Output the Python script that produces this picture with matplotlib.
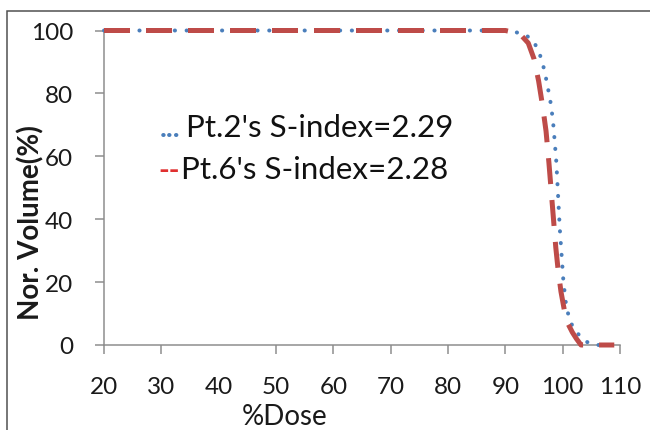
import matplotlib
matplotlib.use("Agg")
import matplotlib.pyplot as plt
from matplotlib.patches import Rectangle

# Pt.2 (blue dotted) and Pt.6 (red dashed) cumulative DVH
dose_pt2 = [20, 90, 91.5, 93.5, 95, 96, 96.8, 97.4, 97.9, 98.3, 98.6, 98.9, 99.1,
            99.3, 99.5, 99.8, 100.1, 100.5, 101, 101.7, 102.7, 104.2, 105.5, 109]
vol_pt2 = [100, 100, 99.6, 98.7, 96.4, 92.5, 87.5, 82, 77, 71.5, 65, 58, 51,
           44, 37, 29, 21, 14, 9.5, 6, 3.5, 1, 0, 0]

dose_pt6 = [20, 90, 92.5, 94, 95, 95.8, 96.5, 97.1, 97.6, 98.0, 98.4, 98.8, 99.2,
            99.7, 100.3, 101.0, 101.7, 102.4, 103.2, 109]
vol_pt6 = [100, 100, 99, 96, 91, 84, 76, 68, 58, 49, 40, 31, 24,
           17, 11, 6.5, 4, 2, 0, 0]

label_pt2 = "Pt.2's S-index=2.29"
label_pt6 = "Pt.6's S-index=2.28"
xticks = [20, 30, 40, 50, 60, 70, 80, 90, 100, 110]
yticks = [0, 20, 40, 60, 80, 100]

plt.rcParams['font.family'] = ['Lato', 'DejaVu Sans']

W, H = 650, 431
fig = plt.figure(figsize=(6.5, 4.31), dpi=100)
ax = fig.add_axes([104 / W, 1 - 346 / H, (620 - 104) / W, (346 - 31.5) / H])

blue = '#4A7EBB'
red = '#BE4B48'
px = 72 / 100  # points per pixel

l1, = ax.plot(dose_pt2, vol_pt2, color=blue, lw=4 * px, clip_on=False, zorder=3)
l1.set_dashes([0.05, 2.9])
l1.set_dash_capstyle('round')
l2, = ax.plot(dose_pt6, vol_pt6, color=red, lw=5 * px, clip_on=False, zorder=4)
l2.set_dashes([5.2, 3.2])
l2.set_dash_capstyle('butt')

ax.set_xlim(20, 110)
ax.set_ylim(0, 100)
ax.set_xticks(xticks)
ax.set_yticks(yticks)
ax.xaxis.get_major_ticks()[2].tick1line.set_visible(False)

for s in ['top', 'right']:
    ax.spines[s].set_visible(False)
for s in ['left', 'bottom']:
    ax.spines[s].set_color('#8C8C8C')
    ax.spines[s].set_linewidth(1.5 * px)
    ax.spines[s].set_zorder(1)
ax.tick_params(axis='both', direction='out', length=9 * px, width=1.5 * px,
               color='#8C8C8C', labelsize=17.5, labelcolor='#1a1a1a', pad=22 * px)

# axis titles placed where the original has them
fig.text(285 / W, 1 - 417 / H, '%Dose', ha='center', va='center', fontsize=20,
         color='#1a1a1a')
fig.text(31 / W, 1 - 223 / H, 'Nor. Volume(%)', ha='center', va='center',
         rotation=90, fontsize=20, fontweight='bold', color='#1a1a1a')

# text legend with coloured markers
fig.text(160 / W, 1 - 137 / H, '...', color=blue, fontsize=21, va='baseline',
         fontweight='bold')
fig.text(186 / W, 1 - 137 / H, label_pt2, color='#111111', fontsize=22.5, va='baseline')
fig.text(158 / W, 1 - 179 / H, '--', color='#E03030', fontsize=21, va='baseline',
         fontweight='bold')
fig.text(181 / W, 1 - 179 / H, label_pt6, color='#111111', fontsize=22.5, va='baseline')

# outer frame (only the left and top edges fall inside the picture)
fig.patches.append(Rectangle((6.5 / W, -0.1), 1.2, (H - 11.5) / H + 0.1,
                             transform=fig.transFigure, fill=False,
                             edgecolor='#4d4d4d', lw=1.5 * px))

fig.savefig('out.png', dpi=100)
